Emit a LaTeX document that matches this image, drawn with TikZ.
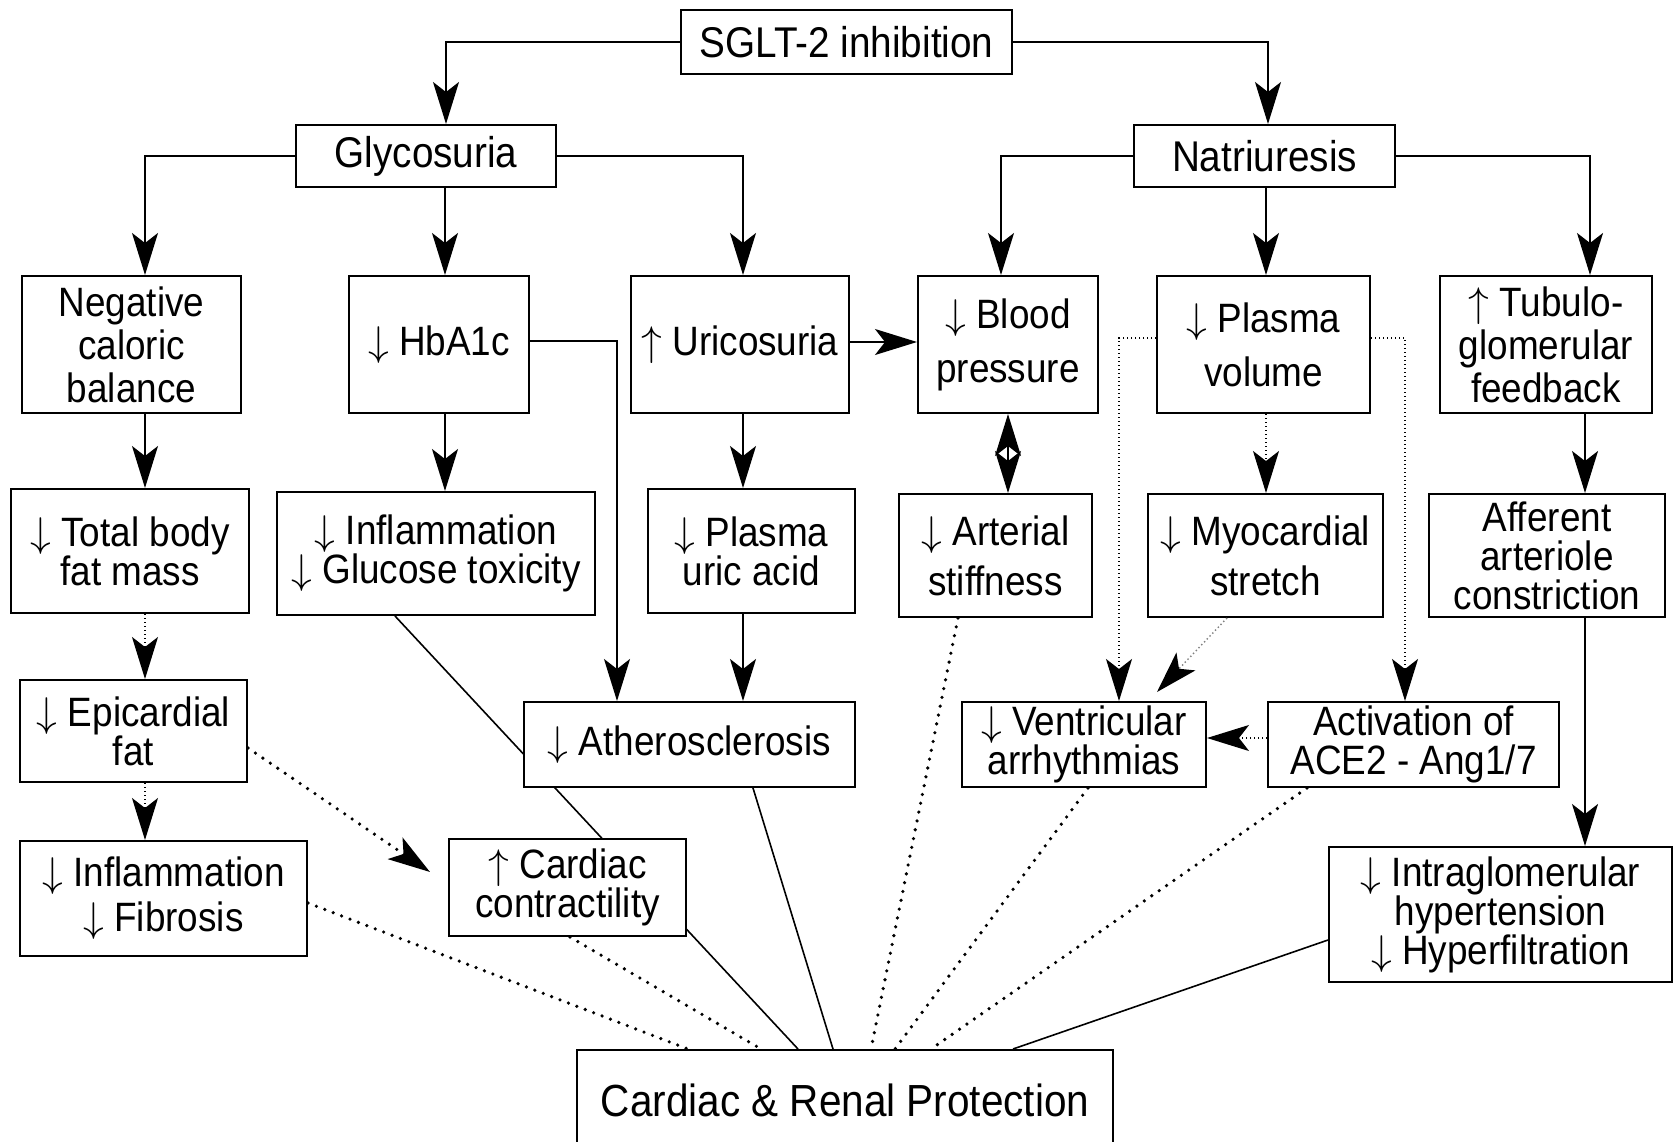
\documentclass[tikz,border=0pt]{standalone}
\usepackage{fontspec}
\setmainfont{Liberation Sans}[FakeStretch=0.9]
\newcommand{\decr}{$\downarrow$}
\newcommand{\incr}{$\uparrow$}
\usetikzlibrary{arrows.meta,backgrounds}

\begin{document}
\begin{tikzpicture}[x=0.5pt, y=-0.5pt,
    box/.style={draw, rectangle, fill=white, line width=1pt, inner sep=0pt, align=center,
      font=\fontsize{20.5}{19.5}\selectfont},
    head/.style={box, font=\fontsize{21.5}{21.5}\selectfont},
    ln/.style={line width=0.8pt},
    arr/.style={ln, -{Stealth[length=21pt, width=13pt, inset=5pt]}},
    dotarr/.style={arr, line width=0.7pt, dash pattern=on 0.7pt off 1.3pt},
    dotln/.style={line width=1.8pt, line cap=round, dash pattern=on 0pt off 4.5pt}]
    \useasboundingbox (0,0) rectangle (1676,1141);
    % livelli superiori
    \node[head, minimum width=165.5pt, minimum height=32pt] (sglt) at (846.5,42) {SGLT-2 inhibition};
    \node[head, minimum width=130pt, minimum height=31pt] (glyco) at (426,156) {Glycosuria};
    \node[head, minimum width=130.5pt, minimum height=31pt] (natri) at (1264.5,156) {Natriuresis};
    % terza riga
    \node[box, minimum width=109.5pt, minimum height=68.5pt] (negcal) at (131.5,344.5) {Negative\\[2pt]caloric\\[2pt]balance};
    \node[box, minimum width=90pt, minimum height=68.5pt] (hba) at (439,344.5) {\decr{} HbA1c};
    \node[box, minimum width=109pt, minimum height=68.5pt] (uric) at (740,344.5) {\incr{} Uricosuria};
    \node[box, minimum width=90pt, minimum height=68.5pt] (bp) at (1008,344.5) {\decr{} Blood\\[7.5pt]pressure};
    \node[box, minimum width=106.5pt, minimum height=68.5pt] (plasvol) at (1263.5,344.5) {\decr{} Plasma\\[7.5pt]volume};
    \node[box, minimum width=106pt, minimum height=68.5pt] (tubulo) at (1546,344.5) {\incr{} Tubulo-\\[2pt]glomerular\\[2pt]feedback};
    % quarta riga
    \node[box, minimum width=119pt, minimum height=62pt] (fatmass) at (130,551) {\decr{} Total body\\fat mass};
    \node[box, minimum width=159pt, minimum height=61.5pt] (inflam) at (436,553.5) {\decr{} Inflammation\\\decr{} Glucose toxicity};
    \node[box, minimum width=103.5pt, minimum height=62pt] (uricacid) at (751.5,551) {\decr{} Plasma\\uric acid};
    \node[box, minimum width=96.5pt, minimum height=61.5pt] (stiff) at (995.5,555.5) {\decr{} Arterial\\[5.5pt]stiffness};
    \node[box, minimum width=117.5pt, minimum height=61.5pt] (myo) at (1265.5,555.5) {\decr{} Myocardial\\[5.5pt]stretch};
    \node[box, minimum width=118pt, minimum height=61.5pt] (afferent) at (1547,555.5) {Afferent\\[0pt]arteriole\\[0pt]constriction};
    % quinta riga
    \node[box, minimum width=113.5pt, minimum height=51pt] (epi) at (133.5,731) {\decr{} Epicardial\\fat};
    \node[box, minimum width=165.5pt, minimum height=42.5pt] (athero) at (689.5,744.5) {\decr{} Atherosclerosis};
    \node[box, minimum width=122pt, minimum height=42.5pt] (ventr) at (1084,744.5) {\decr{} Ventricular\\arrhythmias};
    \node[box, minimum width=145.5pt, minimum height=42.5pt] (ace) at (1413.5,744.5) {Activation of\\ACE2 - Ang1/7};
    % ultima riga
    \node[box, minimum width=143.5pt, minimum height=57.5pt] (fibro) at (163.5,898.5) {\decr{} Inflammation\\[3pt]\decr{} Fibrosis};
    \node[box, minimum width=118.5pt, minimum height=48.5pt] (contr) at (567.5,887.5) {\incr{} Cardiac\\contractility};
    \node[box, minimum width=171.5pt, minimum height=67.5pt] (intra) at (1500.5,914.5) {\decr{} Intraglomerular\\hypertension\\\decr{} Hyperfiltration};
    \node[head, minimum width=268pt, minimum height=50pt, font=\fontsize{22.5}{22.5}\selectfont] (protect) at (845,1100) {Cardiac \& Renal Protection};

    % frecce dall'alto
    \draw[arr] (sglt.west) -| ([xshift=10pt]glyco.north);
    \draw[arr] (sglt.east) -| ([xshift=1.75pt]natri.north);
    \draw[arr] (glyco.west) -| ([xshift=6.75pt]negcal.north);
    \draw[arr] ([xshift=9.5pt]glyco.south) -- ([xshift=3pt]hba.north);
    \draw[arr] (glyco.east) -| ([xshift=1.5pt]uric.north);
    \draw[arr] (natri.west) -| ([xshift=-3.5pt]bp.north);
    \draw[arr] ([xshift=0.75pt]natri.south) -- ([xshift=1.25pt]plasvol.north);
    \draw[arr] (natri.east) -| ([xshift=22pt]tubulo.north);

    % ramo glicosuria
    \draw[arr] ([xshift=6.75pt]negcal.south) -- ([xshift=7.5pt]fatmass.north);
    \draw[dotarr] ([xshift=7.5pt]fatmass.south) -- ([xshift=5.75pt]epi.north);
    \draw[dotarr] ([xshift=5.75pt]epi.south) -- ([xshift=-9.25pt]fibro.north);
    \draw[arr] ([xshift=3pt]hba.south) -- ([xshift=4.5pt]inflam.north);
    \draw[arr] ([yshift=1.75pt]hba.east) -| ([xshift=-36.25pt]athero.north);
    \draw[arr] ([xshift=1.5pt]uric.south) -- ([xshift=-4.25pt]uricacid.north);
    \draw[arr] ([xshift=-4.25pt]uricacid.south) -- ([xshift=26.75pt]athero.north);
    \draw[arr] ([yshift=1.25pt]uric.east) -- ([yshift=1.25pt]bp.west);
    \draw[dotln, -{Stealth[length=21pt, width=13pt, inset=5pt]}] ([yshift=-8.5pt]epi.east) -- ([xshift=-9pt, yshift=7.75pt]contr.west);

    % ramo natriuresi
    \draw[ln, {Stealth[length=21pt, width=13pt, inset=5pt]}-{Stealth[length=21pt, width=13pt, inset=5pt]}] (bp.south) -- ([xshift=6.25pt]stiff.north);
    \draw[dotarr] ([xshift=1.25pt]plasvol.south) -- ([xshift=0.25pt]myo.north);
    \draw[dotarr] ([yshift=3.25pt]plasvol.west) -| ([xshift=17.5pt]ventr.north);
    \draw[dotarr] ([yshift=3.25pt]plasvol.east) -| ([xshift=-4.25pt]ace.north);
    \draw[dotarr, draw=gray, -{Stealth[length=21pt, width=13pt, inset=5pt, color=black]}] ([xshift=-19.25pt]myo.south) -- ([xshift=36.5pt, yshift=4.5pt]ventr.north);
    \draw[dotarr] ([yshift=3.25pt]ace.west) -- ([yshift=3.25pt]ventr.east);
    \draw[arr] ([xshift=19.5pt]tubulo.south) -- ([xshift=19pt]afferent.north);
    \draw[arr] ([xshift=19pt]afferent.south) -- ([xshift=42.25pt]intra.north);

    % verso la protezione
    \begin{scope}[on background layer]
      \draw[ln] ([xshift=-20.5pt]inflam.south) -- ([xshift=-23.5pt]protect.north);
    \end{scope}
    \draw[ln] ([xshift=31.75pt]athero.south) -- ([xshift=-6pt]protect.north);
    \draw[dotln] ([xshift=1.25pt]contr.south) -- ([xshift=-42pt]protect.north);
    \draw[dotln] ([yshift=-2.25pt]fibro.east) -- ([xshift=-78.5pt]protect.north);
    \draw[dotln] ([xshift=-18.75pt]stiff.south) -- ([xshift=13pt]protect.north);
    \draw[dotln] ([xshift=2pt]ventr.south) -- ([xshift=25pt]protect.north);
    \draw[dotln] ([xshift=-53.25pt]ace.south) -- ([xshift=43pt]protect.north);
    \draw[ln] ([yshift=-12.75pt]intra.west) -- ([xshift=84pt]protect.north);
\end{tikzpicture}
\end{document}
